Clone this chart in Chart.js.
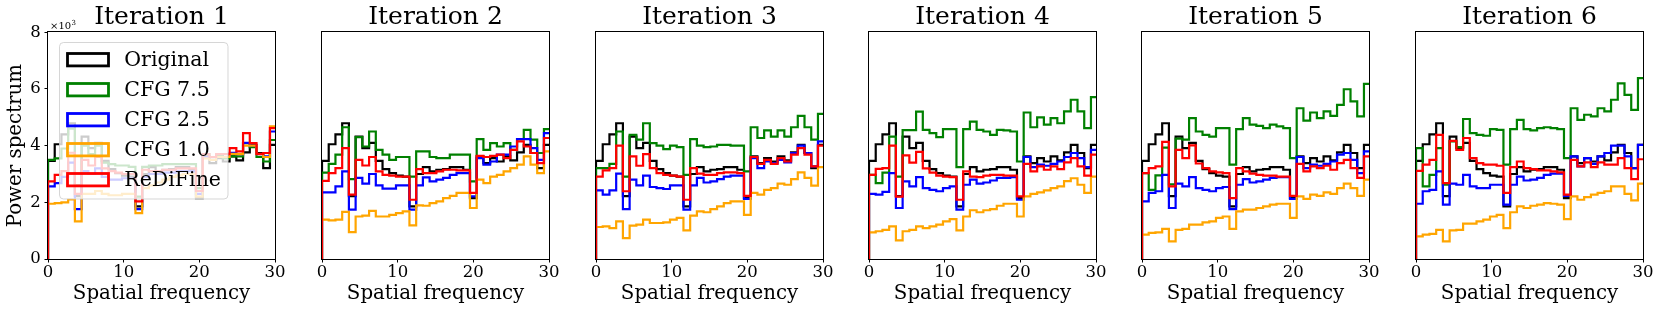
<!DOCTYPE html>
<html><head><meta charset="utf-8">
<script src="https://cdn.jsdelivr.net/npm/chart.js@4.4.1/dist/chart.umd.min.js"></script>
<style>
html,body{margin:0;padding:0;background:#fff;width:1660px;height:313px;overflow:hidden;position:relative;}
canvas{position:absolute;top:0;}
</style></head><body>
<script>
// ---------- data ----------
const binEdges = [0, 0.889, 1.778, 2.667, 3.556, 4.444, 5.333, 6.222, 7.111, 8, 8.889, 9.778, 10.667, 11.556, 12.444, 13.333, 14.222, 15.111, 16, 16.889, 17.778, 18.667, 19.556, 20.444, 21.333, 22.222, 23.111, 24, 24.889, 25.778, 26.667, 27.556, 28.444, 29.333, 30.222];
const xTicks = [0, 10, 20, 30];
const yTicks = [0, 2, 4, 6, 8];
const panelTitles = ["Iteration 1", "Iteration 2", "Iteration 3", "Iteration 4", "Iteration 5", "Iteration 6"];
const seriesLabels = ["Original", "CFG 7.5", "CFG 2.5", "CFG 1.0", "ReDiFine"];
const seriesColors = ["#000000", "#008000", "#0000ff", "#ffa500", "#ff0000"];

const original = [3.46, 4.05, 4.40, 4.79, 2.22, 4.32, 3.91, 4.10, 3.46, 3.17, 3.03, 2.94, 2.91, 1.86, 3.00, 3.24, 3.09, 3.15, 3.17, 3.24, 3.24, 3.15, 2.15, 3.62, 3.38, 3.56, 3.44, 3.62, 3.48, 3.76, 4.03, 3.74, 3.21, 4.03];

const cfg75_it1 = [3.50, 3.55, 3.90, 4.60, 2.60, 4.00, 3.70, 4.00, 3.40, 3.35, 3.30, 3.30, 3.25, 2.20, 3.25, 3.30, 3.30, 3.35, 3.35, 3.35, 3.35, 3.35, 2.50, 3.70, 3.60, 3.65, 3.55, 3.62, 3.62, 4.09, 3.95, 3.60, 3.44, 4.20];
const cfg25_it1 = [2.56, 2.68, 2.90, 3.40, 1.76, 3.10, 3.00, 3.20, 2.90, 2.80, 2.80, 2.85, 2.85, 1.76, 2.90, 3.00, 3.00, 3.05, 3.05, 3.10, 3.10, 3.10, 2.30, 3.60, 3.50, 3.60, 3.60, 3.75, 3.70, 4.10, 4.00, 3.70, 3.62, 4.50];
const cfg10_it1 = [1.95, 1.97, 2.00, 2.10, 1.33, 2.30, 2.30, 2.40, 2.30, 2.25, 2.25, 2.30, 2.30, 1.62, 2.50, 2.60, 2.70, 2.80, 2.90, 2.95, 3.00, 3.00, 2.20, 3.55, 3.50, 3.60, 3.60, 3.71, 3.70, 4.00, 4.00, 3.70, 3.60, 4.68];
const redifine_it1 = [2.74, 2.97, 3.10, 3.75, 2.30, 3.50, 3.30, 3.60, 3.20, 3.10, 3.05, 3.00, 3.00, 2.03, 3.15, 3.10, 3.10, 3.15, 3.15, 3.20, 3.20, 3.20, 2.40, 3.70, 3.60, 3.70, 3.70, 3.91, 3.80, 4.44, 4.09, 3.71, 3.74, 4.62];

const cfg75_it2 = [3.05, 3.36, 3.68, 4.65, 2.82, 4.30, 3.97, 4.50, 3.85, 3.68, 3.50, 3.60, 3.60, 2.91, 3.80, 3.80, 3.60, 3.56, 3.56, 3.68, 3.68, 3.68, 2.74, 4.23, 3.85, 4.09, 3.97, 4.09, 3.85, 4.23, 4.56, 4.21, 3.74, 4.58];
const cfg25_it2 = [2.35, 2.35, 2.56, 3.09, 1.74, 2.86, 2.66, 3.00, 2.60, 2.48, 2.48, 2.60, 2.60, 1.74, 2.60, 2.88, 2.74, 2.80, 2.86, 2.97, 3.03, 3.03, 2.21, 3.56, 3.33, 3.44, 3.68, 3.68, 3.97, 4.23, 4.23, 3.91, 3.50, 4.44];
const cfg10_it2 = [1.39, 1.36, 1.39, 1.66, 0.95, 1.50, 1.53, 1.70, 1.50, 1.50, 1.56, 1.62, 1.68, 1.19, 1.89, 1.88, 1.97, 2.03, 2.15, 2.23, 2.33, 2.33, 1.80, 2.80, 2.68, 2.91, 2.97, 3.09, 3.21, 3.33, 3.62, 3.33, 3.03, 3.80];
const redifine_it2 = [2.76, 3.03, 3.21, 3.91, 2.27, 3.50, 3.30, 3.60, 3.09, 2.97, 2.94, 2.91, 2.91, 2.09, 3.17, 3.03, 3.03, 3.09, 3.15, 3.15, 3.13, 3.13, 2.33, 3.64, 3.60, 3.64, 3.68, 3.56, 3.85, 4.15, 3.97, 3.74, 3.38, 4.27];

const cfg75_it3 = [3.21, 3.21, 3.36, 4.50, 2.91, 4.38, 4.21, 4.79, 4.09, 4.00, 3.88, 4.00, 3.95, 2.97, 4.23, 4.00, 3.95, 3.97, 4.03, 4.03, 4.00, 4.00, 3.09, 4.65, 4.27, 4.54, 4.32, 4.54, 4.32, 4.65, 5.05, 4.65, 4.21, 5.12];
const cfg25_it3 = [2.42, 2.27, 2.42, 3.01, 1.76, 2.80, 2.60, 2.94, 2.54, 2.50, 2.47, 2.60, 2.60, 1.74, 2.60, 2.86, 2.70, 2.74, 2.82, 2.91, 2.94, 2.94, 2.12, 3.56, 3.21, 3.44, 3.38, 3.50, 3.41, 3.74, 4.00, 3.74, 3.27, 4.15];
const cfg10_it3 = [1.13, 1.15, 1.09, 1.33, 0.74, 1.18, 1.21, 1.39, 1.27, 1.27, 1.29, 1.39, 1.45, 1.01, 1.53, 1.68, 1.65, 1.76, 1.86, 1.97, 2.03, 2.03, 1.56, 2.33, 2.27, 2.44, 2.50, 2.66, 2.62, 2.82, 3.06, 2.86, 2.59, 3.24];
const redifine_it3 = [2.91, 3.13, 3.21, 4.00, 2.39, 3.62, 3.29, 3.70, 3.21, 3.03, 2.97, 2.94, 2.91, 2.09, 3.21, 3.01, 2.97, 2.97, 3.03, 3.06, 3.06, 3.03, 2.23, 3.60, 3.36, 3.50, 3.36, 3.56, 3.44, 3.68, 3.91, 3.68, 3.27, 4.00];

const cfg75_it4 = [2.97, 2.68, 3.05, 4.32, 2.91, 4.55, 4.55, 5.20, 4.56, 4.44, 4.30, 4.58, 4.58, 3.24, 4.58, 4.85, 4.56, 4.50, 4.38, 4.56, 4.54, 4.50, 3.44, 5.17, 4.65, 5.00, 4.74, 4.97, 4.79, 5.21, 5.62, 5.21, 4.62, 5.71];
const cfg25_it4 = [2.30, 2.27, 2.37, 3.03, 1.80, 2.74, 2.56, 2.89, 2.50, 2.44, 2.39, 2.50, 2.56, 1.74, 2.62, 2.80, 2.66, 2.70, 2.77, 2.86, 2.86, 2.89, 2.09, 3.60, 3.24, 3.33, 3.29, 3.36, 3.44, 3.60, 3.74, 3.56, 3.24, 3.85];
const cfg10_it4 = [0.94, 0.98, 1.03, 1.15, 0.66, 0.98, 1.03, 1.15, 1.09, 1.15, 1.21, 1.33, 1.41, 1.01, 1.50, 1.72, 1.65, 1.72, 1.76, 1.88, 1.95, 1.95, 1.50, 2.21, 2.30, 2.35, 2.42, 2.50, 2.56, 2.75, 2.85, 2.62, 2.33, 2.91];
const redifine_it4 = [2.97, 3.18, 3.21, 4.00, 2.20, 3.66, 3.40, 3.78, 3.20, 3.05, 2.94, 2.91, 2.89, 2.09, 3.09, 2.91, 2.89, 2.94, 2.97, 2.97, 2.94, 2.94, 2.21, 3.36, 3.09, 3.27, 3.15, 3.27, 3.17, 3.41, 3.56, 3.27, 2.94, 3.68];

const cfg75_it5 = [3.03, 2.44, 2.95, 3.93, 2.63, 4.25, 4.21, 4.97, 4.50, 4.38, 4.32, 4.62, 4.62, 3.33, 4.58, 4.97, 4.74, 4.70, 4.62, 4.74, 4.68, 4.62, 3.56, 5.32, 4.88, 5.17, 4.97, 5.21, 5.05, 5.44, 5.99, 5.56, 5.03, 6.18];
const cfg25_it5 = [2.03, 2.33, 2.39, 2.97, 1.80, 2.66, 2.56, 2.89, 2.50, 2.44, 2.39, 2.50, 2.54, 1.76, 2.62, 2.82, 2.70, 2.74, 2.80, 2.86, 2.89, 2.89, 2.12, 3.60, 3.21, 3.33, 3.29, 3.36, 3.44, 3.68, 3.74, 3.50, 3.03, 3.80];
const cfg10_it5 = [0.86, 0.92, 0.94, 1.06, 0.62, 1.03, 1.06, 1.21, 1.21, 1.29, 1.33, 1.45, 1.50, 1.06, 1.68, 1.74, 1.74, 1.80, 1.86, 1.92, 1.95, 1.95, 1.45, 2.21, 2.12, 2.27, 2.23, 2.35, 2.30, 2.50, 2.66, 2.50, 2.23, 2.80];
const redifine_it5 = [3.03, 3.21, 3.27, 4.13, 2.56, 3.85, 3.56, 4.01, 3.37, 3.21, 3.09, 3.06, 3.03, 2.15, 3.21, 3.09, 3.01, 2.97, 2.94, 2.94, 2.91, 2.91, 2.23, 3.36, 3.09, 3.27, 3.21, 3.29, 3.15, 3.38, 3.50, 3.21, 2.86, 3.62];

const cfg75_it6 = [3.91, 2.56, 2.97, 3.91, 2.62, 4.15, 3.95, 4.94, 4.44, 4.38, 4.35, 4.58, 4.56, 3.33, 4.58, 4.91, 4.58, 4.54, 4.62, 4.65, 4.62, 4.58, 3.56, 5.32, 4.91, 5.09, 5.03, 5.32, 5.21, 5.62, 6.20, 5.79, 5.26, 6.38];
const cfg25_it6 = [1.95, 2.39, 2.44, 3.09, 1.92, 2.66, 2.62, 2.97, 2.56, 2.50, 2.50, 2.62, 2.62, 1.92, 2.62, 2.91, 2.77, 2.80, 2.86, 2.97, 3.01, 3.01, 2.23, 3.62, 3.27, 3.56, 3.36, 3.62, 3.74, 4.00, 4.00, 3.62, 3.21, 4.03];
const cfg10_it6 = [0.80, 0.86, 0.89, 1.03, 0.62, 1.01, 1.03, 1.25, 1.25, 1.33, 1.39, 1.50, 1.56, 1.09, 1.65, 1.86, 1.80, 1.88, 1.92, 1.97, 1.95, 1.92, 1.41, 2.21, 2.09, 2.18, 2.27, 2.33, 2.39, 2.56, 2.56, 2.30, 2.07, 2.66];
const redifine_it6 = [3.11, 3.33, 3.50, 4.38, 2.68, 4.17, 3.85, 4.27, 3.56, 3.38, 3.33, 3.33, 3.29, 2.33, 3.24, 3.44, 3.21, 3.17, 3.13, 3.13, 3.09, 3.06, 2.27, 3.50, 3.27, 3.41, 3.24, 3.41, 3.33, 3.33, 3.56, 3.21, 2.82, 3.52];

const panels = [
  [original, cfg75_it1, cfg25_it1, cfg10_it1, redifine_it1],
  [original, cfg75_it2, cfg25_it2, cfg10_it2, redifine_it2],
  [original, cfg75_it3, cfg25_it3, cfg10_it3, redifine_it3],
  [original, cfg75_it4, cfg25_it4, cfg10_it4, redifine_it4],
  [original, cfg75_it5, cfg25_it5, cfg10_it5, redifine_it5],
  [original, cfg75_it6, cfg25_it6, cfg10_it6, redifine_it6]
];

// ---------- layout ----------
const PLOT_LEFTS = [48, 322, 596, 869, 1142, 1416];
const PLOT_W = 227;
const X_AXIS_H = 54;
const FONT = "'DejaVu Serif', serif";

function stairs(vals) {
  const pts = [{x: binEdges[0], y: 0}];
  vals.forEach((v, i) => pts.push({x: binEdges[i], y: v}));
  pts.push({x: binEdges[vals.length], y: vals[vals.length - 1]});
  return pts;
}

const framePlugin = {
  id: 'frame',
  afterDraw(chart) {
    const {ctx, chartArea: a} = chart;
    ctx.save();
    ctx.strokeStyle = '#000';
    ctx.lineWidth = 1;
    const l = Math.round(a.left), t = Math.round(a.top), r = Math.round(a.right), b = Math.round(a.bottom);
    ctx.strokeRect(l - 0.5, t - 0.5, r - l + 1, b - t + 1);
    ctx.restore();
  }
};

const legendPlugin = {
  id: 'boxLegend',
  afterDatasetsDraw(chart) {
    const ctx = chart.ctx;
    ctx.save();
    const x = 59.5, y = 42.5, w = 168.5, h = 156.5, r = 4;
    ctx.beginPath();
    ctx.moveTo(x + r, y);
    ctx.lineTo(x + w - r, y); ctx.quadraticCurveTo(x + w, y, x + w, y + r);
    ctx.lineTo(x + w, y + h - r); ctx.quadraticCurveTo(x + w, y + h, x + w - r, y + h);
    ctx.lineTo(x + r, y + h); ctx.quadraticCurveTo(x, y + h, x, y + h - r);
    ctx.lineTo(x, y + r); ctx.quadraticCurveTo(x, y, x + r, y);
    ctx.closePath();
    ctx.fillStyle = 'rgba(255,255,255,0.8)';
    ctx.fill();
    ctx.strokeStyle = 'rgba(204,204,204,0.8)';
    ctx.lineWidth = 1;
    ctx.stroke();
    ctx.font = "20.5px " + FONT;
    ctx.textBaseline = 'middle';
    ctx.textAlign = 'left';
    seriesLabels.forEach((lab, k) => {
      const cy = 59.7 + 30 * k;
      ctx.strokeStyle = seriesColors[k];
      ctx.lineWidth = 2.8;
      ctx.strokeRect(67.5, cy - 6.2, 41, 12.4);
      ctx.fillStyle = '#000';
      ctx.fillText(lab, 124.3, cy + 0.5);
    });
    ctx.restore();
  }
};

const offsetPlugin = {
  id: 'offsetText',
  afterDraw(chart) {
    const ctx = chart.ctx;
    ctx.save();
    ctx.fillStyle = '#000';
    ctx.textBaseline = 'alphabetic';
    ctx.font = "10px " + FONT;
    ctx.fillText('\u00d710', 50, 28.5);
    const w = ctx.measureText('\u00d710').width;
    ctx.font = "7px " + FONT;
    ctx.fillText('3', 50 + w + 0.5, 24.5);
    ctx.restore();
  }
};

panels.forEach((series, i) => {
  const isFirst = i === 0;
  const yW = isFirst ? 48 : 14;
  const rightM = 16;
  const cw = yW + PLOT_W + rightM;
  const canvas = document.createElement('canvas');
  canvas.width = cw; canvas.height = 313;
  canvas.style.left = (PLOT_LEFTS[i] - yW) + 'px';
  canvas.style.width = cw + 'px'; canvas.style.height = '313px';
  document.body.appendChild(canvas);
  new Chart(canvas, {
    type: 'line',
    data: {
      datasets: series.map((vals, k) => ({
        label: seriesLabels[k],
        data: stairs(vals),
        borderColor: seriesColors[k],
        backgroundColor: seriesColors[k],
        borderWidth: 2.2,
        pointRadius: 0,
        pointHoverRadius: 0,
        fill: false,
        stepped: true,
        tension: 0,
        borderJoinStyle: 'miter',
        borderCapStyle: 'butt',
        clip: 0,
        order: 5 - k
      }))
    },
    options: {
      responsive: false,
      animation: false,
      devicePixelRatio: 1,
      events: [],
      layout: {padding: {left: 0, right: rightM, top: 0, bottom: 0}},
      plugins: {
        legend: {display: false},
        tooltip: {enabled: false},
        title: {
          display: true, text: panelTitles[i], fullSize: false,
          font: {family: FONT, size: 25, lineHeight: 1.15, weight: 'normal'},
          color: '#000', padding: {top: 3, bottom: 0.55}
        }
      },
      scales: {
        x: {
          type: 'linear', min: 0, max: 30,
          afterBuildTicks: s => { s.ticks = xTicks.map(v => ({value: v})); },
          afterFit: s => { s.height = X_AXIS_H; },
          ticks: {font: {family: FONT, size: 16.5}, color: '#000', padding: 0.5, maxRotation: 0, autoSkip: false},
          grid: {drawOnChartArea: false, drawTicks: true, tickLength: 3.5, tickWidth: 1, tickColor: '#000', color: '#000'},
          border: {display: false},
          title: {display: true, text: 'Spatial frequency', font: {family: FONT, size: 19.8, lineHeight: 1.2}, color: '#000', padding: {top: 0, bottom: 7.5}}
        },
        y: {
          type: 'linear', min: 0, max: 8,
          afterBuildTicks: s => { s.ticks = yTicks.map(v => ({value: v})); },
          afterFit: s => { s.width = yW; },
          ticks: {display: isFirst, font: {family: FONT, size: 16.5}, color: '#000', padding: 3.8},
          grid: {drawOnChartArea: false, drawTicks: isFirst, tickLength: 3.5, tickWidth: 1, tickColor: '#000', color: '#000'},
          border: {display: false},
          title: {display: isFirst, text: 'Power spectrum', font: {family: FONT, size: 19.8, lineHeight: 1.2}, color: '#000', padding: {top: 4.2, bottom: 0}}
        }
      }
    },
    plugins: isFirst ? [framePlugin, legendPlugin, offsetPlugin] : [framePlugin]
  });
});
</script>
</body></html>
